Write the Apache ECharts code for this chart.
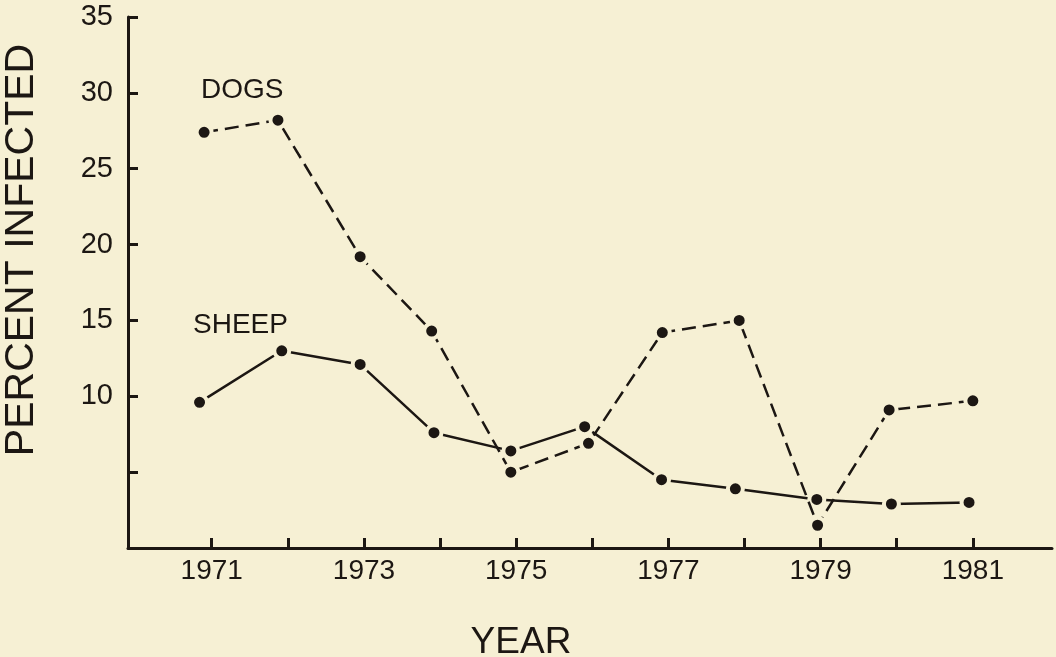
<!DOCTYPE html>
<html>
<head>
<meta charset="utf-8">
<script src="https://cdn.jsdelivr.net/npm/echarts@6/dist/echarts.min.js"></script>
<style>
  html, body { margin: 0; padding: 0; background: #f6f0d4; }
  #chart { width: 1056px; height: 657px; }
</style>
</head>
<body>
<div id="chart"></div>
<script>
// values (x = position of the dot, in years)
var dogYears = [1970.9, 1971.87, 1972.95, 1973.89, 1974.93, 1975.95, 1976.92, 1977.93, 1978.96, 1979.9, 1981.0];
var dogValues = [27.4, 28.2, 19.2, 14.3, 5.0, 6.9, 14.2, 15.0, 1.5, 9.1, 9.7];
var sheepYears = [1970.84, 1971.92, 1972.95, 1973.92, 1974.93, 1975.9, 1976.91, 1977.88, 1978.95, 1979.93, 1980.95];
var sheepValues = [9.6, 13.0, 12.1, 7.6, 6.4, 8.0, 4.5, 3.9, 3.2, 2.9, 3.0];

var yearTicks = [1971, 1972, 1973, 1974, 1975, 1976, 1977, 1978, 1979, 1980, 1981];
var yearLabels = [1971, 1973, 1975, 1977, 1979, 1981];
var percentTicks = [5, 10, 15, 20, 25, 30, 35];
var percentLabels = [10, 15, 20, 25, 30, 35];

var bg = '#f6f0d4';
var ink = '#1c1713';
var font = 'Liberation Sans, Arial, sans-serif';

function pairs(xs, ys) {
    var out = [];
    for (var i = 0; i < xs.length; i++) out.push([xs[i], ys[i]]);
    return out;
}

var chart = echarts.init(document.getElementById('chart'));

var option = {
    backgroundColor: bg,
    animation: false,
    grid: { left: 128, right: 4, top: 17, bottom: 109 },
    xAxis: {
        type: 'value',
        min: 1969.9,
        max: 1982.04,
        splitLine: { show: false },
        axisLine: { lineStyle: { color: ink, width: 3 } },
        // ticks point up into the plot
        axisTick: { inside: true, length: 10, customValues: yearTicks, lineStyle: { color: ink, width: 3 } },
        axisLabel: {
            customValues: yearLabels,
            margin: 9,
            color: ink,
            fontSize: 28,
            fontFamily: font,
            formatter: function (v) { return String(v); }
        }
    },
    yAxis: {
        type: 'value',
        min: 0,
        max: 35,
        splitLine: { show: false },
        axisLine: { show: true, lineStyle: { color: ink, width: 3 } },
        axisTick: { show: true, inside: true, length: 10, customValues: percentTicks, lineStyle: { color: ink, width: 3 } },
        axisLabel: {
            customValues: percentLabels,
            margin: 15,
            color: ink,
            fontSize: 29,
            fontFamily: font,
            padding: [5, 0, 0, 0]
        }
    },
    series: [
        {
            name: 'DOGS',
            type: 'line',
            data: pairs(dogYears, dogValues),
            symbol: 'circle',
            symbolSize: 15,
            itemStyle: { color: ink, borderColor: bg, borderWidth: 4 },
            lineStyle: { color: ink, width: 2.5, type: [14, 7] },
            z: 3
        },
        {
            name: 'SHEEP',
            type: 'line',
            data: pairs(sheepYears, sheepValues),
            symbol: 'circle',
            symbolSize: 15,
            itemStyle: { color: ink, borderColor: bg, borderWidth: 4 },
            lineStyle: { color: ink, width: 2.5 },
            z: 2
        }
    ],
    graphic: [
        { type: 'text', left: 201, top: 76, style: { text: 'DOGS', fill: ink, font: '28px ' + font } },
        { type: 'text', left: 193, top: 311, style: { text: 'SHEEP', fill: ink, font: '28px ' + font } },
        {
            type: 'text', x: 22, y: 250, rotation: Math.PI / 2,
            style: { text: 'PERCENT INFECTED', fill: ink, font: '41px ' + font, textAlign: 'center', textVerticalAlign: 'middle' }
        },
        {
            type: 'text', x: 521, y: 643,
            style: { text: 'YEAR', fill: ink, font: '37px ' + font, textAlign: 'center', textVerticalAlign: 'middle' }
        }
    ]
};

chart.setOption(option);
</script>
</body>
</html>
